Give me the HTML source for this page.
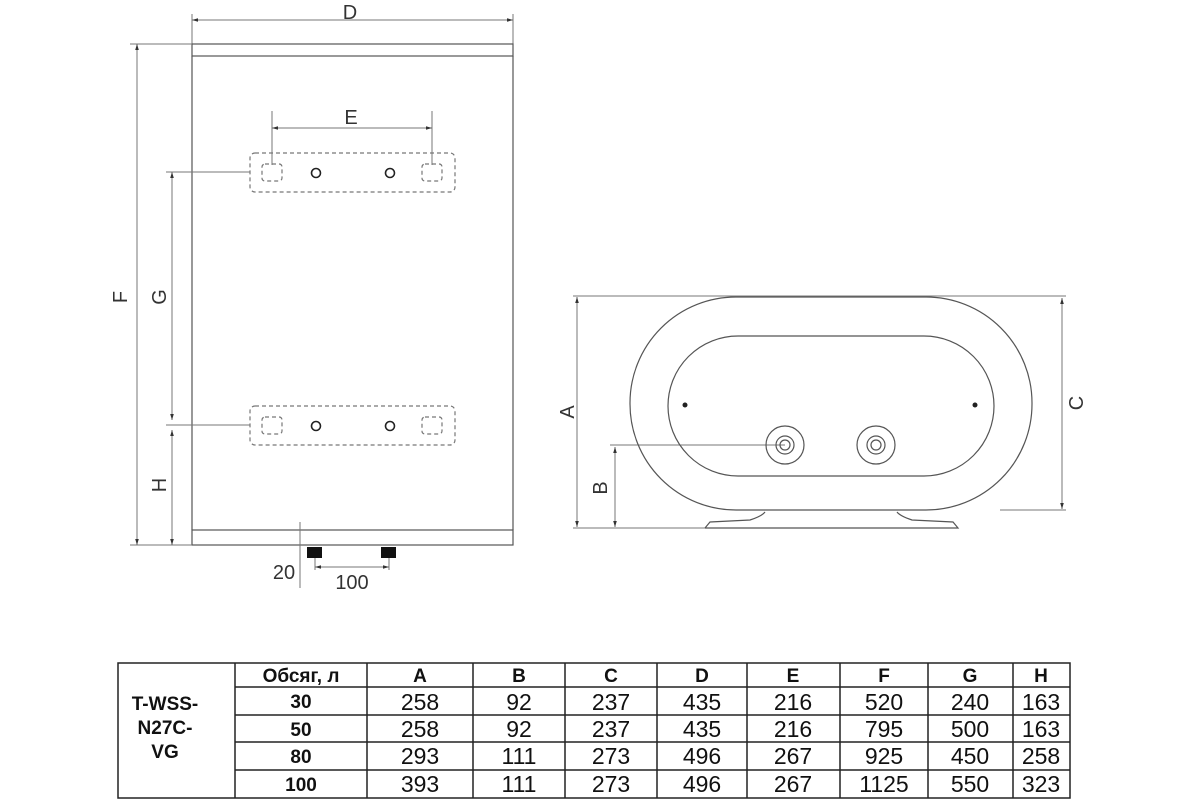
<!DOCTYPE html>
<html><head><meta charset="utf-8"><style>
body{margin:0;background:#fff;}
svg{display:block;font-family:"Liberation Sans",sans-serif;}
.l{stroke:#555;stroke-width:1.2;fill:none}
.t{stroke:#777;stroke-width:1;fill:none}
.d{stroke:#777;stroke-width:1.2;fill:none;stroke-dasharray:4 3}
.lab{font-size:20px;fill:#333}
.tb{font-size:23px;fill:#111}
.bb{font-weight:bold;font-size:19px;fill:#111}
</style></head><body>
<svg width="1200" height="800" viewBox="0 0 1200 800">
<defs><marker id="a" viewBox="0 0 10 10" refX="10" refY="5" markerWidth="6" markerHeight="6" orient="auto-start-reverse"><path d="M0,2 L10,5 L0,8z" fill="#333"/></marker></defs>
<!-- left drawing -->
<line class="t" x1="192" y1="14" x2="192" y2="44"/><line class="t" x1="513" y1="14" x2="513" y2="44"/>
<line class="t" x1="192" y1="20" x2="513" y2="20" marker-start="url(#a)" marker-end="url(#a)"/>
<text class="lab" x="350" y="19" text-anchor="middle">D</text>
<rect class="l" x="192" y="44" width="321" height="12"/>
<line class="l" x1="192" y1="56" x2="192" y2="530"/><line class="l" x1="513" y1="56" x2="513" y2="530"/>
<rect class="l" x="192" y="530" width="321" height="15"/>
<line class="t" x1="130" y1="44" x2="192" y2="44"/><line class="t" x1="130" y1="545" x2="192" y2="545"/>
<line class="t" x1="137" y1="44" x2="137" y2="545" marker-start="url(#a)" marker-end="url(#a)"/>
<text class="lab" transform="translate(127,297) rotate(-90)" text-anchor="middle">F</text>
<line class="t" x1="166" y1="172" x2="250" y2="172"/>
<line class="t" x1="166" y1="425" x2="250" y2="425"/>
<line class="t" x1="172" y1="172" x2="172" y2="420" marker-start="url(#a)" marker-end="url(#a)"/>
<line class="t" x1="172" y1="430" x2="172" y2="545" marker-start="url(#a)" marker-end="url(#a)"/>
<text class="lab" transform="translate(166,297) rotate(-90)" text-anchor="middle">G</text>
<text class="lab" transform="translate(166,485) rotate(-90)" text-anchor="middle">H</text>
<line class="t" x1="272" y1="111" x2="272" y2="165"/><line class="t" x1="432" y1="111" x2="432" y2="165"/>
<line class="t" x1="272" y1="128" x2="432" y2="128" marker-start="url(#a)" marker-end="url(#a)"/>
<text class="lab" x="351" y="124" text-anchor="middle">E</text>
<g id="br">
<rect class="d" x="250" y="153" width="205" height="39" rx="5"/>
<rect class="d" x="262" y="164" width="20" height="17" rx="3"/>
<rect class="d" x="422" y="164" width="20" height="17" rx="3"/>
<circle class="l" cx="316" cy="173" r="4.5" style="stroke-width:1.6;stroke:#222"/>
<circle class="l" cx="390" cy="173" r="4.5" style="stroke-width:1.6;stroke:#222"/>
</g>
<use href="#br" transform="translate(0,253)"/>
<rect x="307" y="547" width="15" height="11" fill="#111"/><rect x="381" y="547" width="15" height="11" fill="#111"/>
<line class="t" x1="300" y1="522" x2="300" y2="588"/>
<line class="t" x1="315" y1="558" x2="315" y2="570"/><line class="t" x1="389" y1="558" x2="389" y2="570"/>
<line class="t" x1="315" y1="567" x2="389" y2="567" marker-start="url(#a)" marker-end="url(#a)"/>
<text class="lab" x="352" y="589" text-anchor="middle">100</text>
<text class="lab" x="284" y="579" text-anchor="middle">20</text>
<!-- right drawing -->
<line class="t" x1="573" y1="296" x2="1066" y2="296"/>
<line class="t" x1="573" y1="528" x2="710" y2="528"/>
<line class="t" x1="1000" y1="510" x2="1066" y2="510"/>
<line class="t" x1="577" y1="297" x2="577" y2="527" marker-start="url(#a)" marker-end="url(#a)"/>
<line class="t" x1="1062" y1="298" x2="1062" y2="509" marker-start="url(#a)" marker-end="url(#a)"/>
<text class="lab" transform="translate(574,412) rotate(-90)" text-anchor="middle">A</text>
<text class="lab" transform="translate(1083,403) rotate(-90)" text-anchor="middle">C</text>
<line class="t" x1="610" y1="445" x2="785" y2="445"/>
<line class="t" x1="615" y1="447" x2="615" y2="527" marker-start="url(#a)" marker-end="url(#a)"/>
<text class="lab" transform="translate(607,488) rotate(-90)" text-anchor="middle">B</text>
<rect class="l" x="630" y="297" width="402" height="213" rx="106" ry="106"/>
<rect class="l" x="668" y="336" width="326" height="140" rx="70" ry="70"/>
<circle cx="685" cy="405" r="2.5" fill="#222"/><circle cx="975" cy="405" r="2.5" fill="#222"/>
<circle class="l" cx="785" cy="445" r="19"/><circle class="l" cx="785" cy="445" r="9"/><circle class="l" cx="785" cy="445" r="5"/>
<circle class="l" cx="876" cy="445" r="19"/><circle class="l" cx="876" cy="445" r="9"/><circle class="l" cx="876" cy="445" r="5"/>
<path class="l" d="M705,528 L958,528 L953,522 L912,520 Q900,516 897,512 M765,512 Q762,516 750,520 L710,522 L705,528"/>
<!-- table -->
<g stroke="#222" stroke-width="1.5" fill="none">
<rect x="118" y="663" width="952" height="135"/>
<line x1="235" y1="663" x2="235" y2="798"/>
<line x1="367" y1="663" x2="367" y2="798"/><line x1="473" y1="663" x2="473" y2="798"/>
<line x1="565" y1="663" x2="565" y2="798"/><line x1="657" y1="663" x2="657" y2="798"/>
<line x1="747" y1="663" x2="747" y2="798"/><line x1="840" y1="663" x2="840" y2="798"/>
<line x1="928" y1="663" x2="928" y2="798"/><line x1="1013" y1="663" x2="1013" y2="798"/>
<line x1="235" y1="687" x2="1070" y2="687"/><line x1="235" y1="715" x2="1070" y2="715"/>
<line x1="235" y1="742" x2="1070" y2="742"/><line x1="235" y1="770" x2="1070" y2="770"/>
</g>
<g class="bb" text-anchor="middle">
<text x="165" y="710">T-WSS-</text><text x="165" y="734">N27C-</text><text x="165" y="758">VG</text>
<text x="301" y="682">Обсяг, л</text>
<text x="420" y="682">A</text><text x="519" y="682">B</text><text x="611" y="682">C</text><text x="702" y="682">D</text>
<text x="793" y="682">E</text><text x="884" y="682">F</text><text x="970" y="682">G</text><text x="1041" y="682">H</text>
<text x="301" y="708">30</text><text x="301" y="736">50</text><text x="301" y="763">80</text><text x="301" y="791">100</text>
</g>
<g class="tb" text-anchor="middle">
<text x="420" y="710">258</text><text x="519" y="710">92</text><text x="611" y="710">237</text><text x="702" y="710">435</text><text x="793" y="710">216</text><text x="884" y="710">520</text><text x="970" y="710">240</text><text x="1041" y="710">163</text>
<text x="420" y="737">258</text><text x="519" y="737">92</text><text x="611" y="737">237</text><text x="702" y="737">435</text><text x="793" y="737">216</text><text x="884" y="737">795</text><text x="970" y="737">500</text><text x="1041" y="737">163</text>
<text x="420" y="764">293</text><text x="519" y="764">111</text><text x="611" y="764">273</text><text x="702" y="764">496</text><text x="793" y="764">267</text><text x="884" y="764">925</text><text x="970" y="764">450</text><text x="1041" y="764">258</text>
<text x="420" y="792">393</text><text x="519" y="792">111</text><text x="611" y="792">273</text><text x="702" y="792">496</text><text x="793" y="792">267</text><text x="884" y="792">1125</text><text x="970" y="792">550</text><text x="1041" y="792">323</text>
</g>
</svg>
</body></html>
